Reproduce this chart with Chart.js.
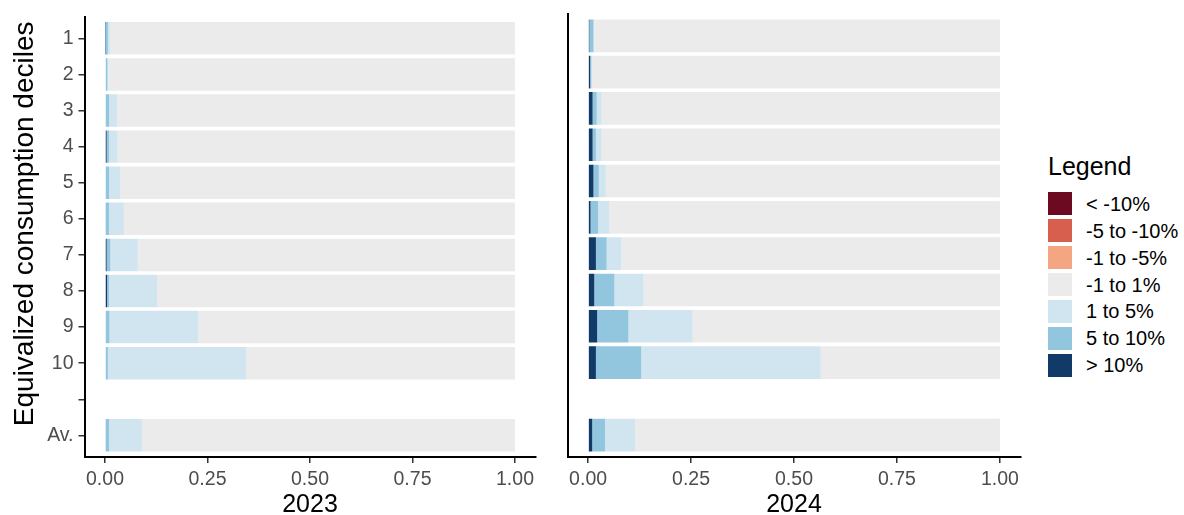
<!DOCTYPE html>
<html>
<head>
<meta charset="utf-8">
<title>Equivalized consumption deciles, 2023 and 2024</title>
<script src="https://cdn.jsdelivr.net/npm/chart.js@4.4.1/dist/chart.umd.min.js"></script>
<style>
  html, body { margin: 0; padding: 0; background: #fff; width: 1184px; height: 515px; overflow: hidden; }
  #wrap { position: relative; width: 1184px; height: 515px; font-family: 'Liberation Sans', Arial, sans-serif; }
  canvas { position: absolute; top: 0; }
  #c2023 { left: 0; }
  #c2024 { left: 545px; }
  #legend { position: absolute; left: 1048px; top: 0; width: 136px; height: 515px; }
  .lg-title { position: absolute; left: 0; top: 154px; font-size: 25px; line-height: 25px; color: #000; white-space: nowrap; }
  .lg-item { position: absolute; left: 0; height: 23px; display: flex; align-items: center; }
  .lg-key { width: 24px; height: 23px; flex: none; }
  .lg-text { margin-left: 14px; font-size: 20px; line-height: 20px; color: #000; white-space: nowrap; }
</style>
</head>
<body>
<div id="wrap">
  <canvas id="c2023" width="545" height="515"></canvas>
  <canvas id="c2024" width="485" height="515"></canvas>
  <div id="legend"></div>
</div>
<script>
// Rows of each panel: ten deciles, an empty spacer row, then the average
const rowLabels = ['1', '2', '3', '4', '5', '6', '7', '8', '9', '10', '', 'Av.'];
const rowAxisTitle = 'Equivalized consumption deciles';

// Change classes, in legend order
const classLabels = ['< -10%', '-5 to -10%', '-1 to -5%', '-1 to 1%', '1 to 5%', '5 to 10%', '> 10%'];
const classColors = ['#6b0a20', '#D6604D', '#F4A582', '#EBEBEB', '#D1E5F0', '#92C5DE', '#123a68'];

// Share axis ticks
const xTickValues = [0, 0.25, 0.5, 0.75, 1];
const xTickLabels = ['0.00', '0.25', '0.50', '0.75', '1.00'];

// 2023 – share of households in each class, per row
const y2023_below_m10 = [0, 0, 0, 0, 0, 0, 0, 0, 0, 0, null, 0];
const y2023_m10_m5    = [0, 0, 0, 0, 0, 0, 0, 0, 0, 0, null, 0];
const y2023_m5_m1     = [0, 0, 0, 0, 0, 0, 0, 0, 0, 0, null, 0];
const y2023_m1_p1     = [0.988, 0.992, 0.970, 0.969, 0.962, 0.954, 0.920, 0.873, 0.772, 0.656, null, 0.910];
const y2023_p1_p5     = [0.005, 0.002, 0.020, 0.021, 0.028, 0.036, 0.067, 0.117, 0.217, 0.337, null, 0.080];
const y2023_p5_p10    = [0.006, 0.006, 0.010, 0.006, 0.010, 0.008, 0.009, 0.005, 0.011, 0.007, null, 0.008];
const y2023_above_p10 = [0.001, 0.000, 0.000, 0.004, 0.000, 0.002, 0.004, 0.005, 0.000, 0.000, null, 0.002];

// 2024 – share of households in each class, per row
const y2024_below_m10 = [0, 0, 0, 0, 0, 0, 0, 0, 0, 0, null, 0];
const y2024_m10_m5    = [0, 0, 0, 0, 0, 0, 0, 0, 0, 0, null, 0];
const y2024_m5_m1     = [0, 0, 0, 0, 0, 0, 0, 0, 0, 0, null, 0];
const y2024_m1_p1     = [0.985, 0.991, 0.967, 0.967, 0.957, 0.949, 0.919, 0.865, 0.746, 0.435, null, 0.886];
const y2024_p1_p5     = [0.002, 0.001, 0.012, 0.014, 0.017, 0.027, 0.036, 0.071, 0.156, 0.436, null, 0.073];
const y2024_p5_p10    = [0.010, 0.003, 0.010, 0.008, 0.013, 0.018, 0.026, 0.049, 0.076, 0.110, null, 0.031];
const y2024_above_p10 = [0.003, 0.005, 0.011, 0.011, 0.013, 0.006, 0.019, 0.015, 0.022, 0.019, null, 0.010];

const FONT = "'Liberation Sans', Arial, sans-serif";
Chart.defaults.font.family = FONT;

// Rotated title beside the decile axis
const sideTitle = {
  id: 'sideTitle',
  afterDraw(chart, args, opts) {
    if (!opts.text) return;
    const { ctx, chartArea } = chart;
    ctx.save();
    ctx.translate(opts.x, (chartArea.top + chartArea.bottom) / 2 + opts.shift);
    ctx.rotate(-Math.PI / 2);
    ctx.font = opts.size + 'px ' + FONT;
    ctx.fillStyle = '#000';
    ctx.textAlign = 'center';
    ctx.textBaseline = 'middle';
    ctx.fillText(opts.text, 0, 0);
    ctx.restore();
  }
};

function buildDatasets(seriesByClass) {
  const sets = classLabels.map((label, k) => ({
    label,
    backgroundColor: classColors[k],
    borderWidth: 0,
    categoryPercentage: 1,
    barPercentage: 0.9,
    data: seriesByClass[k]
      .map((v, i) => (v === null ? null : { x: v, y: i }))
      .filter(p => p !== null)
  }));
  // the largest increases sit on the zero line, so stack them first
  return sets.reverse();
}

function panelOptions(title, withRowAxis, axisWidth, padRight) {
  return {
    indexAxis: 'y',
    responsive: false,
    animation: false,
    devicePixelRatio: 1,
    layout: { padding: { left: 0, right: padRight, top: 14, bottom: 0 } },
    plugins: {
      legend: { display: false },
      tooltip: { enabled: false },
      sideTitle: { text: withRowAxis ? rowAxisTitle : '', x: 25, shift: -13, size: 28 }
    },
    scales: {
      x: {
        type: 'linear', min: -0.05, max: 1.05, bounds: 'data', stacked: true, offset: false,
        afterBuildTicks: axis => { axis.ticks = xTickValues.map(v => ({ value: v })); },
        afterFit: axis => { axis.height = 58; },
        ticks: {
          callback: (v, i) => xTickLabels[i],
          color: '#4d4d4d', font: { size: 19.5 }, padding: 5,
          maxRotation: 0, autoSkip: false
        },
        grid: { offset: false, drawOnChartArea: false, drawTicks: true, tickLength: 6, color: '#333', lineWidth: 1.5 },
        border: { display: true, color: '#000', width: 2 },
        title: {
          display: true, text: title, color: '#000',
          font: { size: 25, lineHeight: 1 }, padding: { top: 0, bottom: -3 }
        }
      },
      y: {
        type: 'linear', min: -0.6, max: 11.6, bounds: 'data', reverse: true, stacked: true, offset: false,
        afterBuildTicks: axis => { axis.ticks = rowLabels.map((_, i) => ({ value: i })); },
        afterFit: axis => { axis.width = axisWidth; },
        ticks: {
          display: withRowAxis,
          callback: (v, i) => rowLabels[i],
          color: '#4d4d4d', font: { size: 19.5 }, padding: 5, autoSkip: false
        },
        grid: { offset: false, drawOnChartArea: false, drawTicks: withRowAxis, tickLength: 6, color: '#333', lineWidth: 1.5 },
        border: { display: true, color: '#000', width: 2 }
      }
    }
  };
}

new Chart(document.getElementById('c2023'), {
  type: 'bar',
  data: {
    datasets: buildDatasets([y2023_below_m10, y2023_m10_m5, y2023_m5_m1, y2023_m1_p1,
                             y2023_p1_p5, y2023_p5_p10, y2023_above_p10])
  },
  options: panelOptions('2023', true, 84.5, 9.5),
  plugins: [sideTitle]
});

new Chart(document.getElementById('c2024'), {
  type: 'bar',
  data: {
    datasets: buildDatasets([y2024_below_m10, y2024_m10_m5, y2024_m5_m1, y2024_m1_p1,
                             y2024_p1_p5, y2024_p5_p10, y2024_above_p10])
  },
  options: panelOptions('2024', false, 22.5, 9.5),
  plugins: [sideTitle]
});

// Legend keys, one per change class
const legend = document.getElementById('legend');
const lgTitle = document.createElement('div');
lgTitle.className = 'lg-title';
lgTitle.textContent = 'Legend';
legend.appendChild(lgTitle);
classLabels.forEach((label, k) => {
  const item = document.createElement('div');
  item.className = 'lg-item';
  item.style.top = (192.3 + 26.9 * k) + 'px';
  const key = document.createElement('div');
  key.className = 'lg-key';
  key.style.background = classColors[k];
  const text = document.createElement('span');
  text.className = 'lg-text';
  text.textContent = label;
  item.appendChild(key);
  item.appendChild(text);
  legend.appendChild(item);
});
</script>
</body>
</html>
